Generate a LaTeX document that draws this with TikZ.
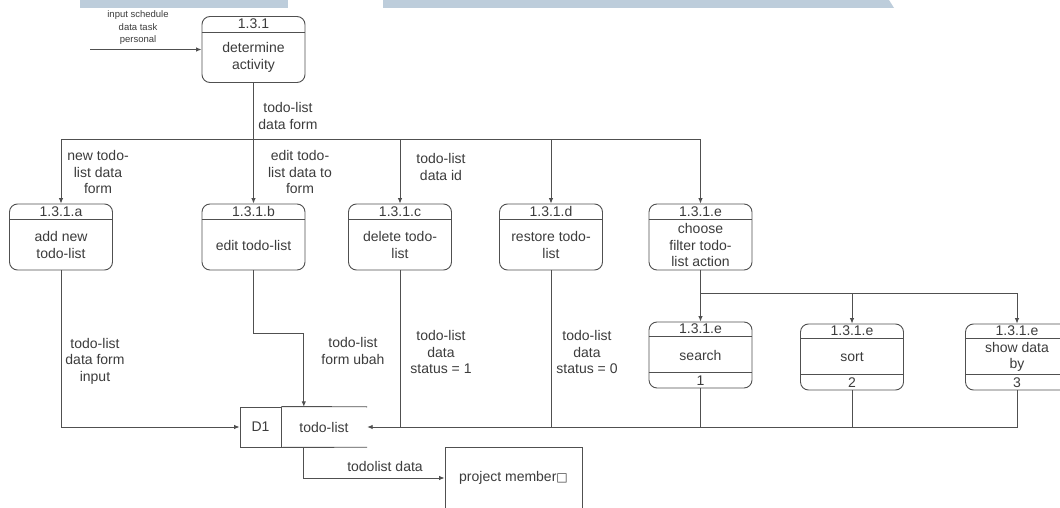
\documentclass[tikz,border=0pt]{standalone}
\usepackage{fontspec}
\setmainfont{Liberation Sans}
\newfontfamily\symfont{DejaVu Sans}
\usetikzlibrary{arrows.meta}
\definecolor{ink}{HTML}{3C3C3C}
\definecolor{band}{HTML}{BDCDDB}

% process box: name, centre x, centre y, number, body text
\newcommand\procbox[5]{%
  \node[proc] (#1) at (#2,#3) {};
  \draw[ln] ([yshift=-16pt]#1.north west) -- ([yshift=-16pt]#1.north east);
  \node[txt] (#1-id) at ([yshift=-8pt]#1.north) {#4};
  \node[txt] (#1-txt) at ([yshift=-8pt]#1.center) {#5};
}
% process box with a footer row: name, centre x, centre y, number, body text, footer
\newcommand\subbox[6]{%
  \node[proc] (#1) at (#2,#3) {};
  \draw[ln] ([yshift=-15pt]#1.north west) -- ([yshift=-15pt]#1.north east);
  \draw[ln] ([yshift=16pt]#1.south west) -- ([yshift=16pt]#1.south east);
  \node[txt] (#1-id) at ([yshift=-7.5pt]#1.north) {#4};
  \node[txt] (#1-txt) at (#1.center) {#5};
  \node[txt] (#1-no) at ([yshift=8pt]#1.south) {#6};
}

\begin{document}
\begin{tikzpicture}[x=1pt,y=-1pt,
  ln/.style={draw=ink!90,line width=0.9pt},
  arr/.style={ln,-{Latex[length=5.5pt,width=4.5pt]}},
  proc/.style={ln,rounded corners=8pt,minimum width=103pt,minimum height=66pt,inner sep=0pt},
  txt/.style={text=ink,align=center,inner sep=0pt,font=\fontsize{14}{16.5}\selectfont},
  tiny/.style={text=ink,align=center,inner sep=0pt,font=\fontsize{9.5}{12.5}\selectfont},
]
\useasboundingbox (0,0) rectangle (1060,508);
\clip (0,0) rectangle (1060,508);
\fill[white] (0,0) rectangle (1060,508);

% header bands
\fill[band] (80,0) rectangle (288,8);
\fill[band] (383,0) -- (889,0) -- (894,8) -- (383,8) -- cycle;

% top process
\procbox{act}{253.5}{49.5}{1.3.1}{determine\\activity}
\coordinate (in) at (90,49.5);
\draw[arr] (in) -- (act.west);
\node[tiny] (inlbl) at (138,28) {input schedule\\data task\\personal};
\node[txt] (l0) at (288,116) {todo-list\\data form};

% second row of processes
\procbox{pa}{61}{237}{1.3.1.a}{add new\\todo-list}
\procbox{pb}{253.5}{237}{1.3.1.b}{edit todo-list}
\procbox{pc}{400}{237}{1.3.1.c}{delete todo-\\list}
\procbox{pd}{551}{237}{1.3.1.d}{restore todo-\\list}
\procbox{pe}{700.5}{237}{1.3.1.e}{choose\\filter todo-\\list action}

\foreach \p in {pa,pb,pc,pd,pe}
  \draw[arr] (act.south) -- ++(0,57) -| (\p.north);

\node[txt] (la) at (98,172) {new todo-\\list data\\form};
\node[txt] (lb) at (300,172) {edit todo-\\list data to\\form};
\node[txt] (lc) at (441,167) {todo-list\\data id};

% filter actions
\subbox{ps}{700.5}{355}{1.3.1.e}{search}{1}
\subbox{pt}{852}{357}{1.3.1.e}{sort}{2}
\subbox{pw}{1017}{357}{1.3.1.e}{show data\\by}{3}

\foreach \p in {ps,pt,pw}
  \draw[arr] (pe.south) -- ++(0,23) -| (\p.north);

% data store
\node[ln,txt,minimum width=41pt,minimum height=40pt] (d1) at (260.5,427) {D1};
\node[txt,minimum width=86pt,minimum height=40pt] (store) at (324,427) {todo-list};
\draw[ln] (d1.north east) -- (store.north east);
\draw[ln] (d1.south east) -- (store.south east);

% flows into the store
\draw[arr] (pa.south) |- (d1.west);
\draw[arr] (pb.south) -- ++(0,63) -| ([xshift=23pt]store.north west);
\draw[arr] (pw.south) |- (store.east);
\foreach \p in {pc,pd,ps,pt}
  \draw[ln] (\p.south) -- (\p.south |- store.east);

\node[txt] (lsa) at (95,361) {todo-list\\data form\\input};
\node[txt] (lsb) at (353,351) {todo-list\\form ubah};
\node[txt] (lsc) at (441,352) {todo-list\\data\\status = 1};
\node[txt] (lsd) at (587,352) {todo-list\\data\\status = 0};

% output to project member
\node[ln,txt,minimum width=137pt,minimum height=62pt] (pm) at (513.5,478) {project member{\symfont\fontsize{12}{12}\selectfont □}};
\draw[arr] ([xshift=23pt]store.south west) |- (pm.west);
\node[txt] (lpm) at (385,466) {todolist data};
\end{tikzpicture}
\end{document}
